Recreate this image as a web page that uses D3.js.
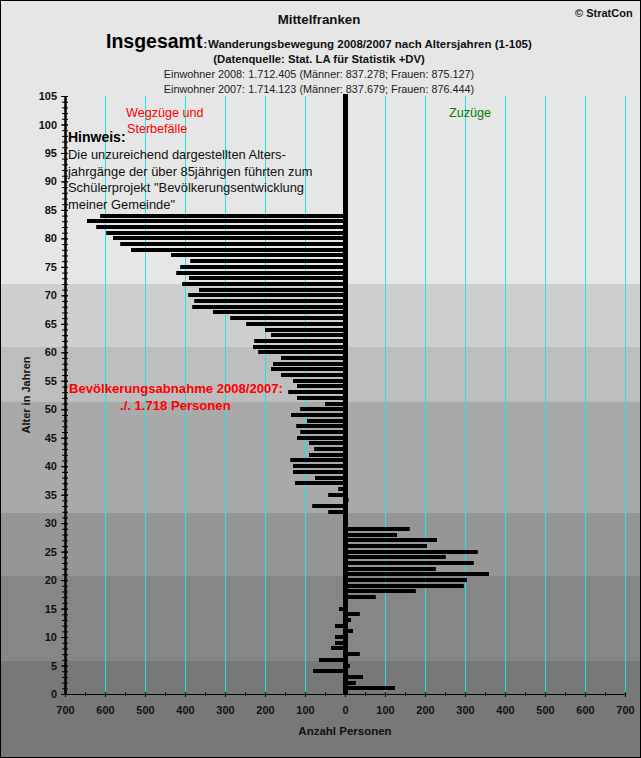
<!DOCTYPE html>
<html>
<head>
<meta charset="utf-8">
<script src="https://cdn.jsdelivr.net/npm/d3@7"></script>
<style>
html, body { margin: 0; padding: 0; background: #fff; }
svg { display: block; font-family: "Liberation Sans", Arial, sans-serif; }
.tick text { font-family: "Liberation Sans", Arial, sans-serif; font-weight: bold; font-size: 11px; fill: #111; }
</style>
</head>
<body>
<div id="chart"></div>
<script>
// Saldo per Altersjahr, index = Alter (0..84), negative = Wegzuege
var saldo = [
    0, 125, 27, 45, -80, 12, -65, 37, -35, -25,
    -25, 20, -25, 15, 37, -15, 0, 77, 177, 297,
    305, 360, 227, 322, 252, 332, 205, 230, 130, 162,
    0, 0, -42, -82, 9, -42, -17, -125, -75, -130,
    -130, -137, -90, -77, -90, -120, -112, -122, -95, -135,
    -112, -50, -120, -142, -120, -130, -160, -185, -180, -160,
    -217, -230, -227, -185, -200, -247, -287, -330, -382, -377,
    -392, -365, -407, -390, -422, -412, -387, -435, -535, -562,
    -580, -597, -622, -645, -612
];
var bandAges = [105, 72, 61, 51.2, 31.8, 20.8, 5.8];
var bandColors = ["#e6e6e6", "#cfcfcf", "#bdbdbd", "#a9a9a9", "#969696", "#868686", "#787878"];
var xGrid = [-600, -500, -400, -300, -200, -100, 100, 200, 300, 400, 500, 600, 700];
var xLabels = d3.range(-700, 701, 100);
var hinweis = [
    "Die unzureichend dargestellten Alters-",
    "jahrgänge der über 85jährigen führten zum",
    "Schülerprojekt \"Bevölkerungsentwicklung",
    "meiner Gemeinde\""
];

var width = 641, height = 758;
var x = d3.scaleLinear().domain([-700, 700]).range([65, 625]);
var y = d3.scaleLinear().domain([0, 105]).range([694, 96]);

var svg = d3.select("#chart").append("svg").attr("width", width).attr("height", height);

// Hintergrund, Baender laufen ueber die ganze Breite
svg.selectAll("rect.band").data(bandAges).enter().append("rect")
    .attr("class", "band")
    .attr("x", 0)
    .attr("width", width)
    .attr("y", function(d, i) { return i == 0 ? 0 : Math.round(y(d)); })
    .attr("height", function(d, i) {
        var top = i == 0 ? 0 : Math.round(y(d));
        var bottom = i == bandAges.length - 1 ? height : Math.round(y(bandAges[i + 1]));
        return bottom - top;
    })
    .attr("fill", function(d, i) { return bandColors[i]; });

svg.selectAll("line.grid").data(xGrid).enter().append("line")
    .attr("class", "grid")
    .attr("x1", function(d) { return x(d) + 0.5; })
    .attr("x2", function(d) { return x(d) + 0.5; })
    .attr("y1", y(105))
    .attr("y2", y(0))
    .attr("stroke", "#19e6e6")
    .attr("stroke-width", 1);

// Balken
svg.selectAll("rect.bar").data(saldo).enter().append("rect")
    .attr("class", "bar")
    .attr("x", function(d) { return x(Math.min(d, 0)); })
    .attr("width", function(d) { return Math.abs(x(d) - x(0)); })
    .attr("y", function(d, i) { return Math.round(y(i)) - 2; })
    .attr("height", 4)
    .attr("fill", "#000");

// Nulllinie
svg.append("rect")
    .attr("x", x(0) - 2)
    .attr("width", 5)
    .attr("y", y(105) - 2)
    .attr("height", y(0) - y(105) + 2)
    .attr("fill", "#000");

// Achsen
var yMinor = d3.axisLeft(y).tickValues(d3.range(0, 106)).tickSize(3).tickFormat("").tickSizeOuter(0);
var yMajor = d3.axisLeft(y).tickValues(d3.range(0, 106, 5)).tickSize(5).tickPadding(3).tickSizeOuter(0);
var xMinor = d3.axisBottom(x).tickValues(d3.range(-700, 701, 50)).tickSize(3).tickFormat("").tickSizeOuter(0);
var xMajor = d3.axisBottom(x).tickValues(xLabels).tickSize(3).tickPadding(9).tickSizeOuter(0)
    .tickFormat(function(d) { return Math.abs(d); });

svg.append("g").attr("class", "yaxis").attr("transform", "translate(" + x(-700) + ",0)").call(yMinor)
    .selectAll(".tick line").attr("x2", -3).attr("x1", 3);
svg.append("g").attr("class", "yaxis").attr("transform", "translate(" + x(-700) + ",0)").call(yMajor)
    .selectAll(".tick line").attr("x2", -4).attr("x1", 3);
svg.append("g").attr("class", "xaxis").attr("transform", "translate(0," + y(0) + ")").call(xMinor)
    .selectAll(".tick line").attr("y1", -2).attr("y2", 2);
svg.append("g").attr("class", "xaxis").attr("transform", "translate(0," + y(0) + ")").call(xMajor)
    .selectAll(".tick line").attr("y1", -2).attr("y2", 3);
svg.selectAll(".domain").attr("stroke", "#000");
svg.selectAll(".yaxis .domain").attr("stroke-width", 2);
svg.selectAll(".xaxis .domain").attr("stroke-width", 1);
svg.selectAll(".tick line").attr("stroke", "#000");

function label(txt, px, py, size, bold, color, anchor) {
    return svg.append("text")
        .attr("x", px).attr("y", py)
        .attr("font-size", size)
        .attr("font-weight", bold ? "bold" : "normal")
        .attr("fill", color || "#000")
        .attr("text-anchor", anchor || "start")
        .text(txt);
}

label("© StratCon", 575, 17, 11, true, "#111");
label("Mittelfranken", 319, 24, 13.3, true, "#111", "middle");
label("Insgesamt", 106, 48, 19.5, true, "#000");
label(":", 203.5, 48, 11, true, "#111");
label("Wanderungsbewegung 2008/2007 nach Altersjahren (1-105)", 208, 48, 11.5, true, "#111");
label("(Datenquelle: Stat. LA für Statistik +DV)", 319, 63, 11.3, true, "#111", "middle");
label("Einwohner 2008: 1.712.405 (Männer: 837.278; Frauen: 875.127)", 319, 78, 10.85, false, "#222", "middle");
label("Einwohner 2007: 1.714.123 (Männer: 837.679; Frauen: 876.444)", 319, 93, 10.85, false, "#222", "middle");

label("Wegzüge und", 126, 117, 12.6, false, "#ff0000");
label("Sterbefälle", 127, 133, 12.6, false, "#ff0000");
label("Zuzüge", 449, 117, 12.6, false, "#008000");

label("Hinweis:", 68, 142, 14, true, "#000");
hinweis.forEach(function(t, i) {
    label(t, 68, 159 + i * 16.7, 12.9, false, "#111");
});

label("Bevölkerungsabnahme 2008/2007:", 69, 393, 13.1, true, "#ff0000");
label("./. 1.718 Personen", 120, 410, 13.1, true, "#ff0000");

label("Anzahl Personen", 345, 735, 11.5, true, "#111", "middle");
svg.append("text")
    .attr("transform", "translate(29.5,395) rotate(-90)")
    .attr("text-anchor", "middle")
    .attr("font-size", 11)
    .attr("font-weight", "bold")
    .attr("fill", "#111")
    .text("Alter in Jahren");

// Rahmen
svg.append("rect")
    .attr("x", 0.5).attr("y", 0.5)
    .attr("width", width - 1).attr("height", height - 1)
    .attr("fill", "none")
    .attr("stroke", "#000")
    .attr("stroke-width", 1);
</script>
</body>
</html>
